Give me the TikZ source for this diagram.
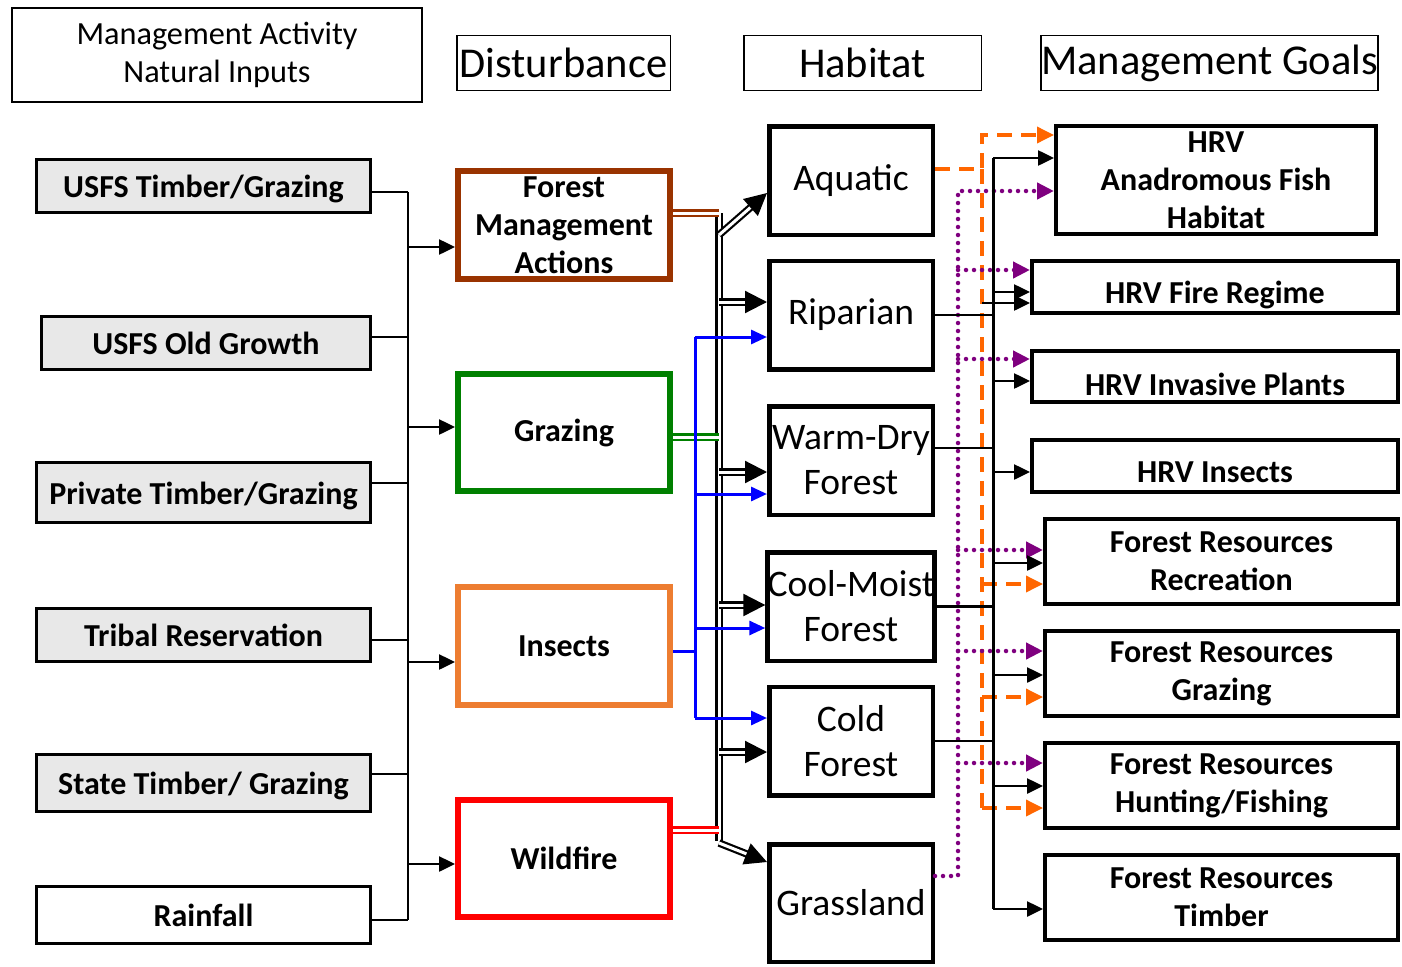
\documentclass[tikz,border=0pt]{standalone}
\usepackage{fontspec}
\setmainfont{Carlito}
\usetikzlibrary{arrows.meta}
\definecolor{fmbrown}{HTML}{993300}
\definecolor{grgreen}{HTML}{008000}
\definecolor{inorange}{HTML}{ED7D31}
\definecolor{dshorange}{HTML}{FF6600}
\definecolor{dotpurple}{HTML}{7F007F}
\definecolor{inputgray}{HTML}{E8E8E8}

\begin{document}
\begin{tikzpicture}[x=1pt,y=-1pt,
  head/.style={draw,line width=1.5pt,inner sep=0pt,minimum height=54.5pt,font=\fontsize{42.5}{48}\selectfont},
  inbox/.style={draw,line width=3pt,fill=inputgray,inner sep=0pt,minimum width=334pt,minimum height=53pt,text height=29pt,text depth=6pt,font=\fontsize{32}{38}\selectfont\bfseries},
  distbox/.style={draw,line width=6pt,inner sep=0pt,minimum width=212pt,align=center,font=\fontsize{32}{38}\selectfont\bfseries},
  habbox/.style={draw,line width=4.5pt,inner sep=0pt,minimum width=163.5pt,minimum height=108.5pt,align=center,font=\fontsize{37.5}{45}\selectfont},
  goalbox/.style={draw,line width=4pt,inner sep=0pt,minimum width=353pt,minimum height=85pt,align=center,font=\fontsize{32}{38}\selectfont\bfseries},
  lowtext/.style={text height=38pt,text depth=6pt},
  wire/.style={line width=2.5pt},
  arr/.style={wire,-{Triangle[length=16pt,width=15pt]}},
  dbl/.style={double,double distance=3pt,line width=2.2pt},
  dblarr/.style={dbl,-{Triangle[length=22pt,width=22pt]}},
  blueline/.style={blue,line width=3pt},
  bluearr/.style={blueline,-{Triangle[length=16pt,width=14pt]}},
  dsh/.style={dshorange,line width=3.5pt,dash pattern=on 15pt off 9pt},
  dsharr/.style={dsh,-{Triangle[length=17pt,width=16pt]}},
  dot/.style={dotpurple,line width=4.5pt,line cap=round,dash pattern=on 0pt off 8pt},
  dotarr/.style={dot,-{Triangle[length=17pt,width=16pt]}}
]
\useasboundingbox (0,0) rectangle (1402,966);

% column titles
\node[head,line width=2pt,minimum width=410pt,minimum height=94pt,align=center,font=\fontsize{32.3}{38}\selectfont] (tAct) at (217,55) {Management Activity\\Natural Inputs};
\node[head,minimum width=213.5pt] (tDist) at (563.5,63) {Disturbance};
\node[head,minimum width=237.5pt] (tHab) at (862.5,63) {Habitat};
\node[head,minimum width=323.5pt] (tGoal) at (1209.5,63) {Management Goals};

\node[inbox] (inUT) at (203.5,186) {USFS Timber/Grazing};
\node[inbox,minimum width=329pt] (inOG) at (206,343) {USFS Old Growth};
\node[inbox,minimum height=60pt] (inPT) at (203.5,492.5) {Private Timber/Grazing};
\node[inbox] (inTR) at (203.5,635) {Tribal Reservation};
\node[inbox,minimum height=57pt] (inST) at (203.5,783) {State Timber/ Grazing};
\node[inbox,minimum height=57pt,fill=white] (inRF) at (203.5,915) {Rainfall};

\node[distbox,draw=fmbrown,minimum height=108pt] (dFM) at (564,225) {Forest\\Management\\Actions};
\node[distbox,draw=grgreen,minimum height=117pt] (dGR) at (564,432.5) {Grazing};
\node[distbox,draw=inorange,minimum height=118pt] (dIN) at (564,646) {Insects};
\node[distbox,draw=red,minimum height=117pt] (dWF) at (564,858.5) {Wildfire};

\node[habbox] (hAq) at (851,180.5) {Aquatic};
\node[habbox] (hRi) at (851,315) {Riparian};
\node[habbox] (hWD) at (851,460.5) {Warm-Dry\\Forest};
\node[habbox] (hCM) at (851,606.5) {Cool-Moist\\Forest};
\node[habbox] (hCo) at (851,741) {Cold\\Forest};
\node[habbox,minimum height=117.5pt] (hGr) at (851,903) {Grassland};

\node[goalbox,minimum width=320pt,minimum height=108pt] (gAF) at (1216,180) {HRV\\Anadromous Fish\\Habitat};
\node[goalbox,lowtext,minimum width=366pt,minimum height=52pt] (gFR) at (1215,287) {HRV Fire Regime};
\node[goalbox,lowtext,text height=44pt,minimum width=366pt,minimum height=51pt] (gIP) at (1215,376.5) {HRV Invasive Plants};
\node[goalbox,lowtext,minimum width=366pt,minimum height=52pt] (gIN) at (1215,466) {HRV Insects};
\node[goalbox] (gRE) at (1221.5,561.5) {Forest Resources\\Recreation};
\node[goalbox] (gGZ) at (1221.5,673.5) {Forest Resources\\Grazing};
\node[goalbox] (gHF) at (1221.5,785.5) {Forest Resources\\Hunting/Fishing};
\node[goalbox] (gTI) at (1221.5,897.5) {Forest Resources\\Timber};

% inputs -> disturbance
\coordinate (busL) at (408,192);
\coordinate (busLend) at (408,920);
\draw[wire] (busL) -- (busLend);
\foreach \n/\s in {inUT/-6,inOG/6,inPT/9.5,inTR/-5,inST/9,inRF/-5}
  \draw[wire] ([yshift=\s pt]\n.east) -- ([yshift=\s pt]\n.east -| busL);
\foreach \n/\s in {dFM/-22,dGR/5.5,dIN/-16,dWF/-5.5}
  \draw[arr] ([yshift=\s pt]\n.west -| busL) -- ([yshift=\s pt]\n.west);

% disturbance -> habitat
\coordinate (dbTop) at (719,213);
\coordinate (dbBot) at (719,841);
\draw[dbl] (dbTop) -- (dbBot);
\draw[dbl,draw=fmbrown] ([yshift=12pt]dFM.east) -- ([yshift=12pt]dFM.east -| dbTop);
\draw[dbl,draw=grgreen] ([yshift=-4.5pt]dGR.east) -- ([yshift=-4.5pt]dGR.east -| dbTop);
\draw[dbl,draw=red] ([yshift=28.5pt]dWF.east) -- ([yshift=28.5pt]dWF.east -| dbTop);
\draw[dblarr] ([yshift=-22pt]dbTop) -- ([yshift=-12.5pt]hAq.west);
\foreach \n/\s in {hRi/13,hWD/-11.5,hCM/1.5,hCo/-11}
  \draw[dblarr] ([yshift=\s pt]\n.west -| dbTop) -- ([yshift=\s pt]\n.west);
\draw[dblarr] ([yshift=-2pt]dbBot) -- ([yshift=41pt]hGr.west);

\coordinate (blTop) at (695,337);
\coordinate (blBot) at (695,718);
\draw[blueline] (blTop) -- (blBot);
\draw[blueline] ([yshift=-5pt]dIN.east) -- ([yshift=-5pt]dIN.east -| blTop);
\foreach \n/\s in {hRi/-22,hWD/-33.5,hCM/-21.5,hCo/23}
  \draw[bluearr] ([yshift=\s pt]\n.west -| blTop) -- ([yshift=\s pt]\n.west);

% habitat -> goals
\coordinate (orTop) at (982,135);
\coordinate (orBot) at (982,808);
\draw[dsharr] ([yshift=11.5pt]hAq.east) -| (orTop) -- ([yshift=45pt]gAF.west);
\draw[dsh] ([yshift=11.5pt]hAq.east -| orTop) -- (orBot);
\foreach \n/\s in {gRE/-22.5,gGZ/-23.5,gHF/-22.5}
  \draw[dsharr] ([yshift=\s pt]\n.west -| orTop) -- ([yshift=\s pt]\n.west);

\coordinate (puTop) at (958,191);
\draw[dotarr] ([yshift=27pt]hGr.east) -| (puTop) -- ([yshift=-11pt]gAF.west);
\foreach \n/\s in {gFR/17,gIP/17.5,gRE/11.5,gGZ/22.5,gHF/22.5}
  \draw[dotarr] ([yshift=\s pt]\n.west -| puTop) -- ([yshift=\s pt]\n.west);

\coordinate (busR) at (993,158);
\coordinate (busRend) at (993,909);
\draw[line width=3pt] (busR) -- (busRend);
\draw[wire] (hRi.east) -- (hRi.east -| busR);
\draw[wire] ([yshift=12.5pt]hWD.east) -- ([yshift=12.5pt]hWD.east -| busR);
\draw[wire] (hCM.east) -- (hCM.east -| busR);
\draw[wire] (hCo.east) -- (hCo.east -| busR);
\draw[arr] (busR) -- ([yshift=22pt]gAF.west);
\foreach \n/\s in {gFR/-5,gIP/-4.5,gIN/-6,gRE/-1.5,gGZ/-1.5,gHF/-0.5}
  \draw[arr] ([yshift=\s pt]\n.west -| busR) -- ([yshift=\s pt]\n.west);
\draw[arr] ([yshift=-16pt]gFR.west -| orTop) -- ([yshift=-16pt]gFR.west);
\draw[arr] (busRend) -- ([yshift=-11.5pt]gTI.west);
\end{tikzpicture}
\end{document}
